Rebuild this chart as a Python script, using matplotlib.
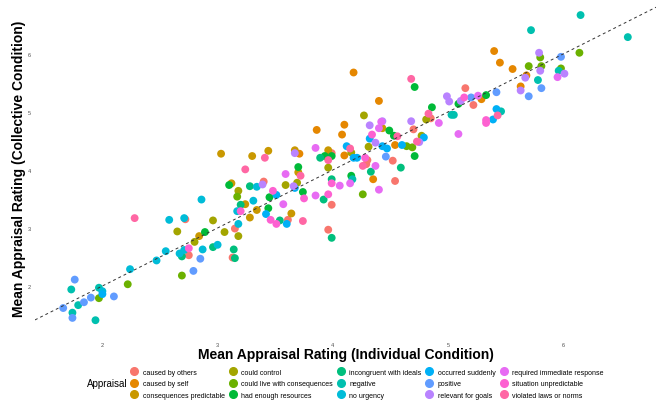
import matplotlib
matplotlib.use("Agg")
import matplotlib.pyplot as plt
from matplotlib.lines import Line2D

plt.rcParams['font.family'] = ['Liberation Sans', 'DejaVu Sans']

appraisals = [
    "caused by others", "caused by self", "consequences predictable",
    "could control", "could live with consequences", "had enough resources",
    "incongruent with ideals", "negative", "no urgency",
    "occurred suddenly", "positive", "relevant for goals",
    "required immediate response", "situation unpredictable", "violated laws or norms",
]
colors = ["#F8766D", "#E58700", "#C99800", "#A3A500", "#6BB100", "#00BA38",
          "#00BF7D", "#00C0AF", "#00BCD8", "#00B0F6", "#619CFF", "#B983FF",
          "#E76BF3", "#FD61D1", "#FF67A4"]

# individual condition (x) / collective condition (y), one pair of lists per appraisal
caused_by_others_x = [2.75, 3.13, 3.15, 2.72, 3.40, 3.99, 4.30, 4.29, 3.61, 3.99, 3.96, 4.54, 4.52, 5.15, 5.22, 4.85, 4.70]
caused_by_others_y = [2.53, 2.49, 2.99, 3.15, 3.80, 4.29, 4.17, 4.10, 3.14, 3.40, 2.97, 3.81, 4.16, 5.41, 5.12, 4.89, 4.70]
caused_by_self_x = [3.86, 4.08, 4.10, 3.71, 4.10, 4.35, 4.54, 4.18, 4.40, 5.40, 5.45, 5.56, 5.63, 5.68, 5.29]
caused_by_self_y = [4.69, 4.61, 4.78, 4.28, 4.25, 3.84, 4.43, 5.68, 5.19, 6.05, 5.85, 5.74, 5.44, 5.63, 5.22]
conseq_pred_x = [2.84, 3.12, 3.24, 3.28, 3.30, 3.44, 3.67, 3.96, 4.43, 3.34, 3.64, 3.03, 3.70]
conseq_pred_y = [2.86, 3.77, 3.41, 3.18, 4.24, 4.33, 4.34, 4.34, 4.72, 3.31, 3.25, 4.28, 3.96]
could_control_x = [2.65, 2.80, 3.06, 3.18, 2.96, 3.18, 3.96, 3.59, 3.69, 4.31, 4.27, 4.81, 4.77, 4.16]
could_control_y = [2.94, 2.76, 2.93, 2.86, 3.13, 3.64, 4.04, 3.74, 3.78, 4.40, 4.94, 4.87, 4.59, 4.30]
could_live_x = [1.97, 2.22, 2.69, 3.17, 4.26, 4.64, 4.69, 5.70, 5.81, 5.80, 5.98, 6.14]
could_live_y = [1.79, 2.03, 2.18, 3.54, 3.58, 4.41, 4.39, 5.79, 5.79, 5.94, 5.75, 6.02]
enough_res_x = [3.10, 3.45, 3.44, 3.74, 3.70, 3.93, 3.99, 4.16, 4.49, 4.71, 4.86, 5.09, 5.33, 4.53, 4.71, 2.89]
enough_res_y = [3.74, 3.53, 3.34, 3.62, 4.05, 4.24, 4.24, 3.90, 4.68, 5.43, 5.08, 5.14, 5.29, 4.59, 4.24, 2.93]
incongruent_x = [2.69, 2.96, 3.14, 3.15, 3.20, 3.28, 3.54, 3.89, 3.92, 3.99, 3.99, 4.33, 4.59]
incongruent_y = [2.51, 2.67, 2.63, 2.48, 3.40, 3.72, 3.13, 4.21, 3.49, 3.84, 2.83, 3.97, 4.04]
negative_x = [1.74, 1.79, 1.73, 1.97, 1.94, 5.03, 5.05, 5.46, 5.78, 5.72, 6.15, 6.56, 5.96, 4.17]
negative_y = [1.54, 1.67, 1.94, 1.97, 1.41, 4.95, 4.95, 5.01, 5.55, 6.41, 6.67, 6.29, 5.71, 3.84]
no_urgency_x = [2.00, 2.24, 2.47, 2.55, 2.67, 2.71, 2.87, 3.00, 2.58, 2.71, 2.86, 3.18, 3.17, 3.31, 3.34]
no_urgency_y = [1.91, 2.29, 2.44, 2.60, 2.56, 2.62, 2.63, 2.71, 3.14, 3.17, 3.49, 3.07, 3.29, 3.47, 3.71]
suddenly_x = [2.00, 3.42, 3.51, 3.60, 3.67, 4.12, 4.18, 4.21, 4.32, 4.43, 4.47, 4.60, 4.79, 5.42, 5.39]
suddenly_y = [1.86, 3.24, 3.57, 3.07, 3.69, 4.41, 4.21, 4.21, 4.54, 4.41, 4.37, 4.43, 4.56, 5.05, 4.87]
positive_x = [1.66, 1.74, 1.84, 1.90, 1.76, 2.10, 2.85, 2.79, 4.46, 5.20, 5.42, 5.81, 5.70, 5.98]
positive_y = [1.62, 1.45, 1.72, 1.80, 2.11, 1.82, 2.47, 2.26, 4.23, 5.25, 5.34, 5.41, 5.27, 5.95]
relevant_x = [3.67, 4.32, 4.37, 3.39, 3.66, 4.99, 5.01, 5.11, 4.68, 4.43, 5.79, 5.80, 6.01, 5.67, 5.63, 4.75]
relevant_y = [4.29, 4.77, 4.47, 3.75, 3.72, 5.27, 5.18, 5.19, 4.84, 4.84, 6.02, 5.71, 5.66, 5.59, 5.37, 4.48]
immediate_x = [3.59, 3.85, 4.40, 4.42, 4.92, 5.09, 5.26, 5.95, 4.37, 4.06, 4.15, 4.40, 3.85, 3.57]
immediate_y = [3.93, 4.38, 4.72, 4.83, 4.81, 4.62, 5.28, 5.60, 4.07, 3.73, 3.77, 3.66, 3.56, 3.41]
unpredictable_x = [2.75, 3.20, 3.48, 3.46, 3.51, 3.75, 3.96, 3.99, 4.28, 4.34, 5.14, 5.33, 5.33]
unpredictable_y = [2.65, 3.29, 3.64, 3.14, 3.07, 3.51, 3.58, 3.77, 4.21, 4.61, 5.25, 4.86, 4.81]
violated_x = [2.28, 3.24, 3.41, 3.72, 3.74, 4.26, 4.68, 5.43, 4.56, 3.96, 4.73, 4.83, 4.15]
violated_y = [3.17, 4.01, 4.21, 3.90, 3.12, 4.07, 5.57, 4.94, 4.58, 4.17, 4.49, 4.97, 4.37]

xs = [caused_by_others_x, caused_by_self_x, conseq_pred_x, could_control_x, could_live_x,
      enough_res_x, incongruent_x, negative_x, no_urgency_x, suddenly_x, positive_x,
      relevant_x, immediate_x, unpredictable_x, violated_x]
ys = [caused_by_others_y, caused_by_self_y, conseq_pred_y, could_control_y, could_live_y,
      enough_res_y, incongruent_y, negative_y, no_urgency_y, suddenly_y, positive_y,
      relevant_y, immediate_y, unpredictable_y, violated_y]

fig = plt.figure(figsize=(6.6, 4.02), dpi=100)
ax = fig.add_axes([0.053, 0.163, 0.941, 0.835])

for x, y, c in zip(xs, ys, colors):
    ax.scatter(x, y, s=32, color=c, edgecolors='none', zorder=2)

ax.axline((2, 2), slope=1, color='#333333', lw=0.7, ls=(0, (3, 3)), zorder=3)

ax.margins(0.05)
ax.set_xticks([2, 3, 4, 5, 6])
ax.set_yticks([2, 3, 4, 5, 6])
ax.tick_params(axis='x', length=0, labelsize=4, labelcolor='#4d4d4d', pad=5)
ax.tick_params(axis='y', length=0, labelsize=4, labelcolor='#4d4d4d', pad=3)
for s in ax.spines.values():
    s.set_visible(False)

ax.set_xlabel("Mean Appraisal Rating (Individual Condition)", fontsize=10, fontweight='bold', labelpad=0)
ax.set_ylabel("Mean Appraisal Rating (Collective Condition)", fontsize=10, fontweight='bold', labelpad=1)

handles = [Line2D([], [], marker='o', ls='none', color=c, markersize=5.5) for c in colors]
fig.legend(handles, appraisals, ncol=5, loc='center left', bbox_to_anchor=(0.188, 0.043),
           frameon=False, fontsize=5.0, handletextpad=0.6, columnspacing=0.55,
           labelspacing=0.65, handlelength=1.2)
fig.text(0.132, 0.045, "Appraisal", fontsize=7, va='center')

fig.savefig("out.png", dpi=100)
